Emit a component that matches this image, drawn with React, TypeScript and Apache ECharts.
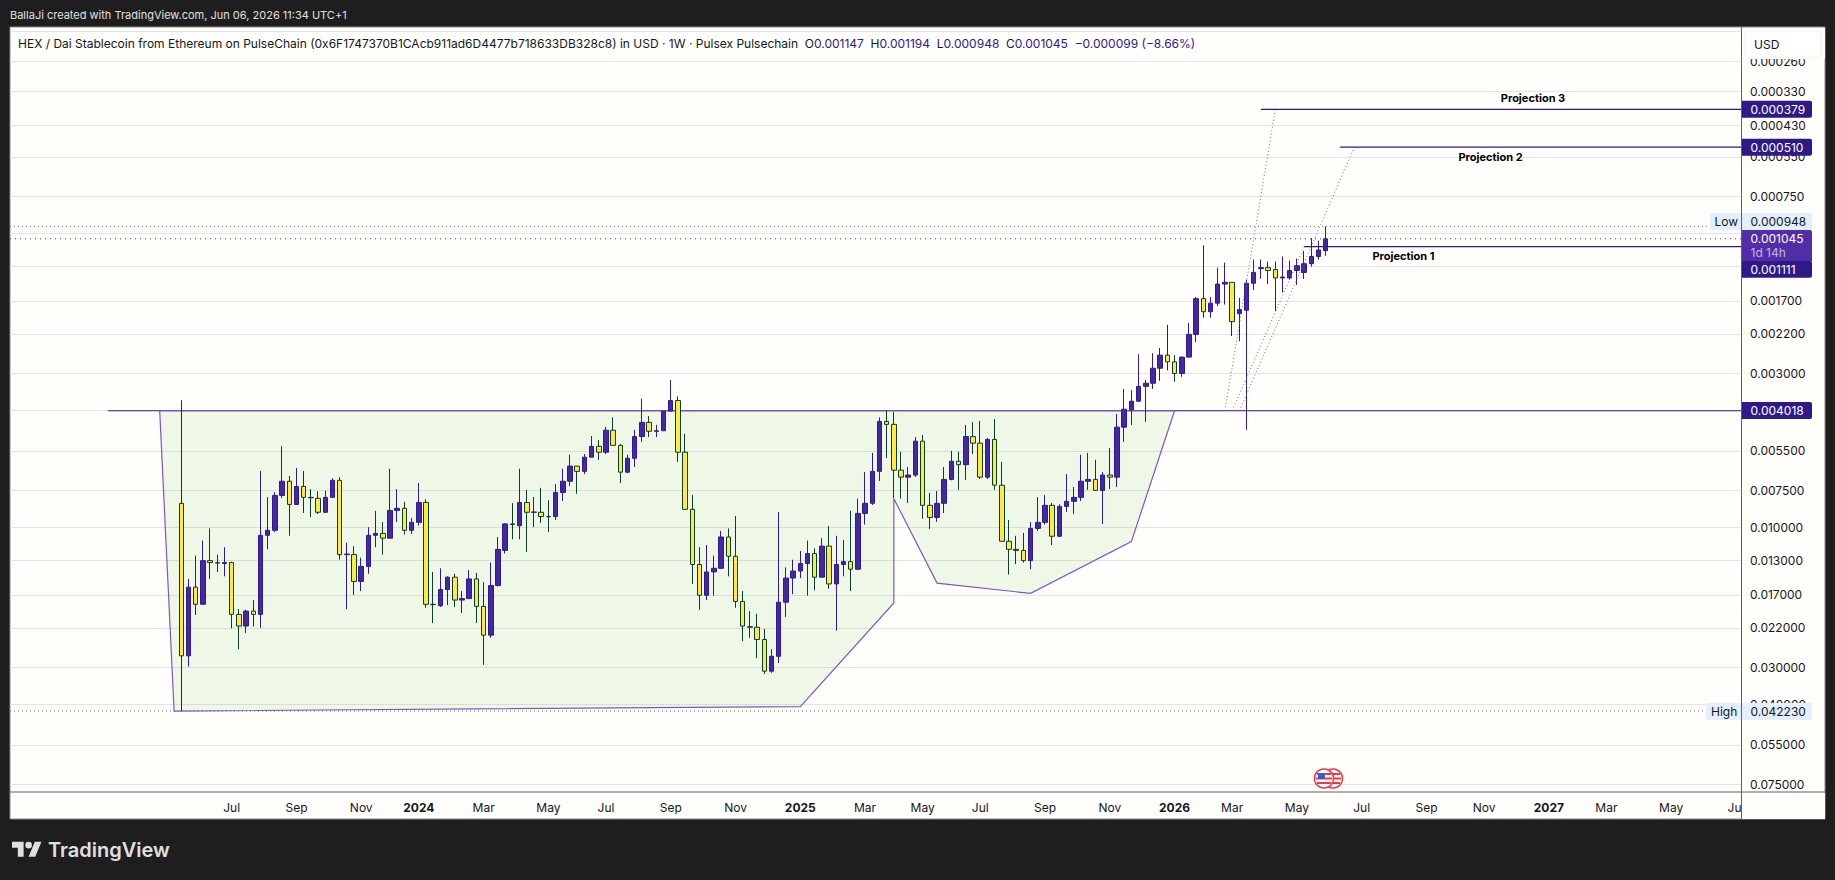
import { useEffect, useRef } from "react";
import * as echarts from "echarts";

// weekly bars, index 0 is the first bar on the chart
const OPENS = [
  0.0083, 0.0274, 0.016, 0.0183, 0.013, 0.0132, 0.0133, 0.0132, 0.0198, 0.0217,
  0.0193, 0.0198, 0.01066, 0.01025, 0.0078, 0.00698, 0.00837, 0.00727, 0.00792, 0.00798,
  0.0089, 0.00792, 0.00693, 0.0124, 0.0124, 0.0153, 0.0136, 0.01066, 0.0105, 0.0109,
  0.00877, 0.00863, 0.01025, 0.00963, 0.00824, 0.0183, 0.0185, 0.0163, 0.0148, 0.0177,
  0.0175, 0.015, 0.0186, 0.0233, 0.0158, 0.012, 0.00975, 0.00989, 0.00824, 0.0089,
  0.0089, 0.0092, 0.0092, 0.00762, 0.00698, 0.0062, 0.00646, 0.00578, 0.00531, 0.00556,
  0.00468, 0.00527, 0.0065, 0.00583, 0.00492, 0.0044, 0.00472, 0.0047, 0.00403, 0.00371,
  0.00556, 0.0087, 0.0134, 0.01705, 0.0142, 0.0138, 0.0108, 0.01256, 0.0179, 0.0218,
  0.0219, 0.0241, 0.0309, 0.0275, 0.018, 0.0149, 0.0141, 0.0133, 0.0123, 0.0148,
  0.0116, 0.0156, 0.0134, 0.0131, 0.0139, 0.00898, 0.0083, 0.00646, 0.00437, 0.00447,
  0.0064, 0.00676, 0.00665, 0.0051, 0.00843, 0.00927, 0.0083, 0.00688, 0.00597, 0.00613,
  0.00492, 0.00518, 0.00676, 0.00503, 0.0072, 0.01117, 0.0119, 0.012, 0.013, 0.0101,
  0.00963, 0.00843, 0.01074, 0.0085, 0.00817, 0.00792, 0.00698, 0.00688, 0.0075, 0.00665,
  0.00676, 0.00457, 0.00399, 0.00373, 0.00332, 0.00324, 0.00288, 0.0026, 0.00274, 0.003,
  0.00264, 0.00221, 0.00167, 0.00185, 0.00173, 0.00149, 0.00147, 0.00188, 0.00183, 0.00148,
  0.00132, 0.00131, 0.00133, 0.00142, 0.00142, 0.00134, 0.00136, 0.00127, 0.0012, 0.001147,
];
const CLOSES = [
  0.0274, 0.016, 0.0183, 0.013, 0.0132, 0.01325, 0.0132, 0.0198, 0.0217, 0.0193,
  0.0198, 0.01066, 0.01025, 0.0078, 0.00698, 0.00837, 0.00727, 0.00792, 0.00795, 0.0089,
  0.00792, 0.00693, 0.0124, 0.01235, 0.0153, 0.0136, 0.01066, 0.0105, 0.0109, 0.00877,
  0.00863, 0.01025, 0.00963, 0.00824, 0.0183, 0.01835, 0.0163, 0.0148, 0.0177, 0.0175,
  0.015, 0.0186, 0.0233, 0.0158, 0.0119, 0.00975, 0.0098, 0.00824, 0.0089, 0.00888,
  0.0092, 0.00922, 0.00762, 0.00698, 0.0062, 0.00646, 0.00578, 0.00531, 0.00556, 0.00468,
  0.00527, 0.0065, 0.00583, 0.00492, 0.0044, 0.00472, 0.0047, 0.00403, 0.00371, 0.00556,
  0.0087, 0.0134, 0.01705, 0.0142, 0.0138, 0.0108, 0.01256, 0.0179, 0.0217, 0.0219,
  0.0241, 0.0309, 0.0275, 0.018, 0.0149, 0.0141, 0.0133, 0.0123, 0.0148, 0.0116,
  0.0156, 0.0134, 0.0131, 0.0139, 0.00898, 0.0083, 0.00646, 0.00437, 0.00447, 0.0064,
  0.00676, 0.00665, 0.0051, 0.00843, 0.00927, 0.0083, 0.00688, 0.00597, 0.00613, 0.00492,
  0.00518, 0.00676, 0.00503, 0.0072, 0.01117, 0.0119, 0.012, 0.013, 0.0101, 0.00963,
  0.00843, 0.01074, 0.0085, 0.00817, 0.00792, 0.00698, 0.00688, 0.0075, 0.00665, 0.00676,
  0.00457, 0.00397, 0.00373, 0.00332, 0.00324, 0.00288, 0.0026, 0.00274, 0.003, 0.00264,
  0.00221, 0.00167, 0.00185, 0.00173, 0.00149, 0.00147, 0.002, 0.00182, 0.00148, 0.00136,
  0.00131, 0.00134, 0.00142, 0.00141, 0.00134, 0.00129, 0.00127, 0.0012, 0.00114, 0.001045,
];
const LOWS = [
  0.0037, 0.015, 0.0125, 0.0111, 0.0101, 0.0124, 0.0117, 0.0131, 0.019, 0.0191,
  0.0177, 0.00644, 0.0079, 0.0076, 0.0053, 0.00669, 0.00629, 0.00644, 0.00742, 0.00755,
  0.00752, 0.00682, 0.00676, 0.0113, 0.0116, 0.0127, 0.01, 0.0088, 0.0096, 0.00633,
  0.00742, 0.0082, 0.0093, 0.00708, 0.00804, 0.0142, 0.0138, 0.0147, 0.0144, 0.0165,
  0.014, 0.0143, 0.0154, 0.0132, 0.0108, 0.0097, 0.00828, 0.00633, 0.00747, 0.0079,
  0.00735, 0.0081, 0.00714, 0.00633, 0.00567, 0.0062, 0.00564, 0.0049, 0.00505, 0.00456,
  0.00423, 0.00521, 0.00567, 0.00467, 0.00366, 0.00419, 0.00449, 0.00403, 0.00316, 0.00359,
  0.00482, 0.00778, 0.0117, 0.0115, 0.0125, 0.0103, 0.0101, 0.00917, 0.0165, 0.0193,
  0.0197, 0.0222, 0.026, 0.00888, 0.0137, 0.0129, 0.01205, 0.0111, 0.0118, 0.0109,
  0.0099, 0.0107, 0.01105, 0.0088, 0.008, 0.0065, 0.00559, 0.00423, 0.004, 0.00406,
  0.00554, 0.00624, 0.00494, 0.00486, 0.00766, 0.00753, 0.00624, 0.0055, 0.00554, 0.00449,
  0.00439, 0.00435, 0.00497, 0.00429, 0.006, 0.00945, 0.0107, 0.01047, 0.0096, 0.0079,
  0.00778, 0.00828, 0.00836, 0.0066, 0.0073, 0.00567, 0.00559, 0.0059, 0.0065, 0.00538,
  0.00412, 0.00339, 0.00342, 0.00258, 0.00316, 0.00256, 0.00246, 0.00205, 0.0026, 0.00263,
  0.00202, 0.00165, 0.0011, 0.00165, 0.00131, 0.00126, 0.00147, 0.00166, 0.00144, 0.00123,
  0.00123, 0.00125, 0.00125, 0.0012, 0.00124, 0.00122, 0.00115, 0.00104, 0.00106, 0.000948,
];
const HIGHS = [
  0.04223, 0.0298, 0.0199, 0.0183, 0.015, 0.0142, 0.0147, 0.0221, 0.026, 0.0229,
  0.0218, 0.022, 0.0119, 0.0104, 0.00796, 0.0107, 0.00837, 0.00895, 0.00925, 0.00902,
  0.00895, 0.00792, 0.0129, 0.019, 0.017, 0.0165, 0.0144, 0.0117, 0.0124, 0.0109,
  0.0096, 0.0106, 0.01055, 0.00988, 0.0188, 0.0212, 0.0187, 0.0184, 0.0187, 0.0196,
  0.0175, 0.0212, 0.0294, 0.0238, 0.0159, 0.0123, 0.011, 0.011, 0.01215, 0.01,
  0.00967, 0.0104, 0.00945, 0.00815, 0.00725, 0.0077, 0.0066, 0.00578, 0.0059, 0.00564,
  0.00527, 0.00708, 0.00656, 0.00624, 0.00513, 0.00494, 0.00494, 0.0047, 0.00404, 0.006,
  0.0087, 0.0156, 0.0191, 0.0177, 0.0171, 0.0139, 0.0147, 0.0188, 0.0244, 0.0238,
  0.0279, 0.0316, 0.0313, 0.029, 0.0202, 0.0169, 0.0149, 0.0171, 0.0164, 0.0148,
  0.0162, 0.0225, 0.0147, 0.0165, 0.014, 0.0098, 0.0084, 0.00696, 0.00582, 0.00798,
  0.008, 0.00828, 0.00675, 0.00937, 0.01014, 0.0096, 0.00895, 0.00693, 0.00747, 0.00691,
  0.00564, 0.00686, 0.00686, 0.00747, 0.01117, 0.0145, 0.01335, 0.0132, 0.0139, 0.0103,
  0.0098, 0.0115, 0.0108, 0.00888, 0.00902, 0.00815, 0.00747, 0.00752, 0.00975, 0.00742,
  0.0073, 0.00513, 0.00449, 0.00374, 0.00439, 0.00339, 0.00318, 0.00293, 0.0032, 0.00308,
  0.00265, 0.00235, 0.00194, 0.00194, 0.00177, 0.00175, 0.00224, 0.00233, 0.00467, 0.00156,
  0.00143, 0.00149, 0.00184, 0.00159, 0.00144, 0.0015, 0.00143, 0.0013, 0.00123, 0.001194,
];

// price scale: gridlines and the labels that aren't covered by a badge
const GRID_PRICES = [
  0.000206, 0.00026, 0.00033, 0.00043, 0.00055, 0.00075, 0.001, 0.0013, 0.0017, 0.0022, 0.003,
  0.004, 0.0055, 0.0075, 0.01, 0.013, 0.017, 0.022, 0.03, 0.04, 0.055, 0.075,
];
const LABEL_PRICES = [
  0.00026, 0.00033, 0.00043, 0.00055, 0.00075, 0.0017, 0.0022, 0.003, 0.0055, 0.0075, 0.01,
  0.013, 0.017, 0.022, 0.03, 0.04, 0.055, 0.075,
];

const TICK_WEEKS = [7, 16, 25, 33, 42, 51, 59, 68, 77, 86, 95, 103, 111, 120, 129, 138, 146, 155, 164, 173, 181, 190, 198, 207, 216];
const TICK_LABELS = ["Jul", "Sep", "Nov", "2024", "Mar", "May", "Jul", "Sep", "Nov", "2025", "Mar", "May", "Jul", "Sep", "Nov", "2026", "Mar", "May", "Jul", "Sep", "Nov", "2027", "Mar", "May", "Jul"];

// cup drawing
const CUP_WEEKS = [-3, -1, 86, 99, 99, 105, 118, 132, 138];
const CUP_PRICES = [0.004018, 0.04223, 0.0408, 0.0181, 0.008, 0.0155, 0.0168, 0.0112, 0.004018];

// horizontal rays
const RAY_WEEKS = [150, 161, 156];
const RAY_PRICES = [0.000379, 0.00051, 0.001111];
const RAY_NAMES = ["Projection 3", "Projection 2", "Projection 1"];
const RAY_NAME_WEEKS = [187.8, 181.9, 169.8];
const NECK_WEEK = -10.2;
const NECK_PRICE = 0.004018;

// dotted projection legs, all start on the neckline
const LEG_START_WEEKS = [145, 146, 147];
const LEG_END_WEEKS = [152, 156, 163];
const LEG_END_PRICES = [0.000379, 0.001111, 0.00051];

const LOW_PRICE = 0.000948;
const HIGH_PRICE = 0.04223;
const LAST_PRICE = 0.001045;

const X_MIN = -23.8;
const X_MAX = 216.7;

const INK = "#131722";
const FONT = "Inter";
const BG = "#fffefa";
const BADGE = "#2e1a87";
const PURPLE = "#4527a0";
const WICK = "#311b92";
const YELLOW = "#ffeb3b";
const GREEN = "#0b3d2e";
const EDGE = "#7e57c2";
const DOT = "#6f6f6f";

const TV_LOGO = "M14 22H7V11H0V4h14v18zM28 22h-8l7.5-18h8L28 22zM24 8a4 4 0 1 1-8 0 4 4 0 0 1 8 0z";
echarts.graphic.registerShape("tvLogo", echarts.graphic.extendPath(TV_LOGO as any, {}));

function badge(y: number, text: string, bg: string, fg: string) {
  return [
    { type: "rect", z: 60, shape: { x: 1742, y: y - 8.5, width: 70, height: 17, r: [0, 2, 2, 0] }, style: { fill: bg } },
    { type: "text", z: 61, x: 1750.5, y, style: { text, fill: fg, font: `12px ${FONT}`, textVerticalAlign: "middle" } },
  ];
}

function frame() {
  const flagRed = "#f23645";
  const flag = (cx: number) => [
    { type: "circle", z: 30, shape: { cx, cy: 778.5, r: 9.5 }, style: { fill: "#fff", stroke: flagRed, lineWidth: 1.5 } },
    { type: "rect", z: 30, shape: { x: cx - 7, y: 773, width: 14, height: 2 }, style: { fill: flagRed } },
    { type: "rect", z: 30, shape: { x: cx - 8, y: 777.5, width: 16, height: 2 }, style: { fill: flagRed } },
    { type: "rect", z: 30, shape: { x: cx - 7, y: 782, width: 14, height: 2 }, style: { fill: flagRed } },
  ];
  return [
    { type: "rect", z: -10, shape: { x: 10, y: 27, width: 1815, height: 792 }, style: { fill: BG, stroke: "#8a8a8a", lineWidth: 1 } },
    // time-scale and price-scale panes sit over the axis texts that run past the plot
    { type: "rect", z: 20, shape: { x: 1742, y: 793, width: 83, height: 26 }, style: { fill: BG } },
    { type: "rect", z: 20, shape: { x: 1742, y: 28, width: 83, height: 31 }, style: { fill: BG } },
    { type: "line", z: 21, shape: { x1: 10, y1: 792, x2: 1825, y2: 792 }, style: { stroke: "#5d606b", lineWidth: 1 } },
    { type: "line", z: 21, shape: { x1: 1741.5, y1: 27, x2: 1741.5, y2: 819 }, style: { stroke: "#5d606b", lineWidth: 1 } },

    ...flag(1333),
    ...flag(1324),
    { type: "rect", z: 32, shape: { x: 1318, y: 773, width: 7, height: 6 }, style: { fill: "#3d5fc4" } },

    { type: "rect", z: 58, shape: { x: 1745, y: 31, width: 76, height: 26, r: 4 }, style: { fill: "#fff", stroke: "#f0f0f0" } },
    { type: "text", z: 59, x: 1754, y: 44, style: { text: "USD", fill: INK, font: `12px ${FONT}`, textVerticalAlign: "middle" } },

    // high / low tags
    { type: "rect", z: 58, shape: { x: 1710, y: 213, width: 102, height: 17, r: 2 }, style: { fill: "#e3effd" } },
    { type: "text", z: 59, x: 1714.5, y: 221.5, style: { text: "Low", fill: INK, font: `12px ${FONT}`, textVerticalAlign: "middle" } },
    { type: "rect", z: 58, shape: { x: 1706, y: 703, width: 106, height: 17, r: 2 }, style: { fill: "#e3effd" } },
    { type: "text", z: 59, x: 1711, y: 711.5, style: { text: "High", fill: INK, font: `12px ${FONT}`, textVerticalAlign: "middle" } },
    { type: "line", z: 59, shape: { x1: 1741.5, y1: 213, x2: 1741.5, y2: 230 }, style: { stroke: "#5d606b", lineWidth: 1 } },
    { type: "line", z: 59, shape: { x1: 1741.5, y1: 703, x2: 1741.5, y2: 720 }, style: { stroke: "#5d606b", lineWidth: 1 } },

    ...badge(109.3, "0.000379", BADGE, "#fff"),
    ...badge(147.3, "0.000510", BADGE, "#fff"),
    ...badge(221.5, "0.000948", "#e3effd", INK),
    ...badge(269.2, "0.001111", BADGE, "#fff"),
    ...badge(410.6, "0.004018", BADGE, "#fff"),
    ...badge(711.5, "0.042230", "#e3effd", INK),
    { type: "rect", z: 62, shape: { x: 1742, y: 230, width: 70, height: 31, r: [0, 2, 0, 0] }, style: { fill: "#512da8" } },
    { type: "text", z: 63, x: 1750.5, y: 238.6, style: { text: "0.001045", fill: "#fff", font: `12px ${FONT}`, textVerticalAlign: "middle" } },
    { type: "text", z: 63, x: 1750.5, y: 252.6, style: { text: "1d 14h", fill: "#c5b8e4", font: `12px ${FONT}`, textVerticalAlign: "middle" } },

    { type: "text", z: 10, x: 10, y: 15, style: { text: "BallaJi created with TradingView.com, Jun 06, 2026 11:34 UTC+1", fill: "#e0e0e0", font: `11px ${FONT}`, textVerticalAlign: "middle" } },
    {
      type: "text",
      z: 10,
      x: 18,
      y: 43,
      style: {
        text:
          "{t|HEX / Dai Stablecoin from Ethereum on PulseChain (0x6F1747370B1CAcb911ad6D4477b718633DB328c8) in USD · 1W · Pulsex Pulsechain}  {t|O}{v|0.001147}  {t|H}{v|0.001194}  {t|L}{v|0.000948}  {t|C}{v|0.001045}  {v|−0.000099 (−8.66%)}",
        font: `12px ${FONT}`,
        textVerticalAlign: "middle",
        rich: {
          t: { fill: INK, font: `12px ${FONT}` },
          v: { fill: BADGE, font: `12px ${FONT}` },
        },
      },
    },

    { type: "tvLogo", z: 10, x: 12, y: 838.5, scaleX: 0.83, scaleY: 0.83, style: { fill: "#e0e0e0" } },
    { type: "text", z: 10, x: 48, y: 850, style: { text: "TradingView", fill: "#e0e0e0", font: `600 20px ${FONT}`, textVerticalAlign: "middle" } },
  ];
}

export default function App() {
  const chartDiv = useRef<HTMLDivElement>(null);

  useEffect(() => {
    if (!chartDiv.current) return;
    document.body.style.margin = "0";
    const chart = echarts.init(chartDiv.current, undefined, { renderer: "svg" });

    const dotted = (api: any, x1: number, p1: number, x2: number, p2: number, stroke: string, dash = [1, 3]) => {
      const a = api.coord([x1, p1]);
      const b = api.coord([x2, p2]);
      return {
        type: "line",
        shape: { x1: a[0], y1: a[1], x2: b[0], y2: b[1] },
        style: { stroke, lineWidth: 1, lineDash: dash },
      };
    };
    const solid = (api: any, x1: number, p1: number, x2: number, p2: number, stroke: string) => {
      const a = api.coord([x1, p1]);
      const b = api.coord([x2, p2]);
      return { type: "line", shape: { x1: a[0], y1: a[1], x2: b[0], y2: b[1] }, style: { stroke, lineWidth: 1.2 } };
    };

    chart.setOption({
      animation: false,
      backgroundColor: "#1e1e1e",
      textStyle: { fontFamily: FONT },
      grid: { left: 10, right: 94, top: 28, bottom: 88, containLabel: false },
      xAxis: {
        type: "value",
        min: X_MIN,
        max: X_MAX,
        axisLine: { show: false },
        axisTick: { show: false },
        splitLine: { show: false },
        axisLabel: {
          customValues: TICK_WEEKS,
          margin: 9,
          color: INK,
          fontSize: 12,
          fontFamily: FONT,
          formatter: (v: number) => {
            const label = TICK_LABELS[TICK_WEEKS.indexOf(v)] ?? "";
            return /^\d/.test(label) ? `{y|${label}}` : label;
          },
          rich: { y: { fontWeight: 700, fontSize: 12, fontFamily: FONT, color: INK } },
        },
      },
      yAxis: {
        type: "log",
        logBase: 10,
        inverse: true,
        position: "right",
        min: 0.0002005,
        max: 0.0796,
        axisLine: { show: false },
        axisTick: { show: false, customValues: GRID_PRICES },
        splitLine: { show: true, lineStyle: { color: "#e0e3eb", width: 1 } },
        axisLabel: {
          customValues: LABEL_PRICES,
          margin: 9,
          color: INK,
          fontSize: 12,
          fontFamily: FONT,
          formatter: (v: number) => Number(v).toFixed(6),
        },
      },
      graphic: { elements: frame() },
      series: [
        {
          // cup area and neckline, under the candles
          type: "custom",
          z: 1,
          silent: true,
          data: [[0, NECK_PRICE]],
          renderItem: (_p: any, api: any) => ({
            type: "group",
            children: [
              solid(api, NECK_WEEK, NECK_PRICE, X_MAX, NECK_PRICE, BADGE),
              {
                type: "polygon",
                shape: { points: CUP_WEEKS.map((w, i) => api.coord([w, CUP_PRICES[i]])) },
                style: { fill: "rgba(110,190,80,0.11)", stroke: EDGE, lineWidth: 1.2 },
              },
            ],
          }),
        },
        {
          type: "candlestick",
          z: 2,
          silent: true,
          barWidth: 5,
          itemStyle: {
            color: YELLOW,
            color0: PURPLE,
            borderColor: GREEN,
            borderColor0: WICK,
            borderWidth: 1,
          },
          data: OPENS.map((o, i) => [i, o, CLOSES[i], LOWS[i], HIGHS[i]]),
        },
        {
          // rays, dotted legs, high/low and last price lines
          type: "custom",
          z: 3,
          silent: true,
          data: [[0, NECK_PRICE]],
          renderItem: (_p: any, api: any) => {
            const rays = RAY_WEEKS.map((w, i) => solid(api, w, RAY_PRICES[i], X_MAX, RAY_PRICES[i], BADGE));
            const legs = LEG_START_WEEKS.map((w, i) =>
              dotted(api, w, NECK_PRICE, LEG_END_WEEKS[i], LEG_END_PRICES[i], DOT, [1, 2.5]),
            );
            const offsets = [-11, 9.5, 9.5];
            const names = RAY_NAMES.map((text, i) => {
              const c = api.coord([RAY_NAME_WEEKS[i], RAY_PRICES[i]]);
              return {
                type: "text",
                x: c[0],
                y: c[1] + offsets[i],
                style: { text, fill: "#000", font: `700 11px ${FONT}`, textAlign: "center", textVerticalAlign: "middle" },
              };
            });
            return {
              type: "group",
              children: [
                ...legs,
                ...rays,
                ...names,
                dotted(api, X_MIN, LOW_PRICE, 212, LOW_PRICE, DOT),
                dotted(api, X_MIN, HIGH_PRICE, 212, HIGH_PRICE, DOT),
                dotted(api, X_MIN, LAST_PRICE, X_MAX, LAST_PRICE, PURPLE, [1, 4]),
              ],
            };
          },
        },
      ],
    });

    return () => chart.dispose();
  }, []);

  return <div ref={chartDiv} style={{ width: 1835, height: 880 }} />;
}
